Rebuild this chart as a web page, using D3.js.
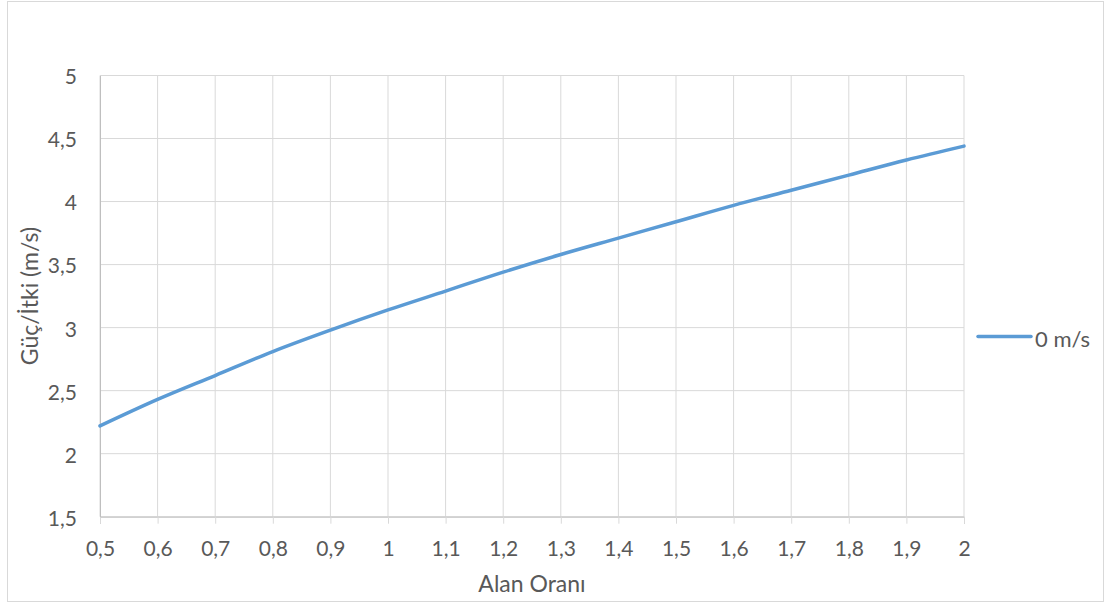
<!DOCTYPE html>
<html><head><meta charset="utf-8">
<script src="https://cdn.jsdelivr.net/npm/d3@7"></script>
<style>body{margin:0;background:#fff}svg text{font-family:Lato,"Open Sans","Liberation Sans",sans-serif;fill:#595959}</style>
</head><body>
<svg id="c" width="1111" height="604"></svg>
<script>
const xValues = [0.5,0.6,0.7,0.8,0.9,1.0,1.1,1.2,1.3,1.4,1.5,1.6,1.7,1.8,1.9,2.0];
const seriesValues = [2.22,2.43,2.62,2.81,2.98,3.14,3.29,3.44,3.58,3.71,3.84,3.97,4.09,4.21,4.33,4.44];
const xTicks = [0.5,0.6,0.7,0.8,0.9,1.0,1.1,1.2,1.3,1.4,1.5,1.6,1.7,1.8,1.9,2.0];
const yTicks = [1.5,2,2.5,3,3.5,4,4.5,5];
const seriesName = "0 m/s";

const svg = d3.select("#c");
const m = {l:100, r:964, t:75.5, b:516.7};
const fmt = d => String(d).replace(".", ",");

svg.append("rect").attr("x",7.5).attr("y",1.5).attr("width",1096).attr("height",600)
  .attr("fill","#fff").attr("stroke","#d9d9d9").attr("stroke-width",1);

const x = d3.scaleLinear().domain([0.5,2]).range([m.l,m.r]);
const y = d3.scaleLinear().domain([1.5,5]).range([m.b,m.t]);

// gridlines
svg.append("g").selectAll("line").data(xTicks).join("line")
  .attr("x1",d=>x(d)).attr("x2",d=>x(d)).attr("y1",m.t).attr("y2",m.b)
  .attr("stroke","#d9d9d9").attr("stroke-width",1);
svg.append("g").selectAll("line").data(yTicks).join("line")
  .attr("x1",m.l).attr("x2",m.r).attr("y1",d=>y(d)).attr("y2",d=>y(d))
  .attr("stroke","#d9d9d9").attr("stroke-width",1);

// x axis
const xa = svg.append("g").attr("transform",`translate(0,${m.b})`)
  .call(d3.axisBottom(x).tickValues(xTicks).tickFormat(fmt).tickSize(7).tickPadding(0));
xa.select(".domain").attr("stroke","#bfbfbf");
xa.selectAll(".tick line").attr("stroke","#d9d9d9");
xa.selectAll("text").attr("font-size",21).attr("fill","#595959").attr("dy",null).attr("y",39);

// y axis
const ya = svg.append("g").attr("transform",`translate(${m.l},0)`)
  .call(d3.axisLeft(y).tickValues(yTicks).tickFormat(fmt).tickSize(0).tickPadding(23));
ya.select(".domain").attr("stroke","#bfbfbf");
ya.selectAll("text").attr("font-size",21).attr("fill","#595959").attr("dy","0.4em");

// line
const line = d3.line().x((d,i)=>x(xValues[i])).y(d=>y(d)).curve(d3.curveMonotoneX);
svg.append("path").datum(seriesValues).attr("d",line)
  .attr("fill","none").attr("stroke","#5b9bd5").attr("stroke-width",3.5).attr("stroke-linecap","round");

// titles
svg.append("text").attr("x",(m.l+m.r)/2).attr("y",591.5).attr("text-anchor","middle")
  .attr("font-size",23).text("Alan Oranı");
svg.append("text").attr("transform",`translate(38,${(m.t+m.b)/2}) rotate(-90)`)
  .attr("text-anchor","middle").attr("font-size",23).text("Güç/İtki (m/s)");

// legend
svg.append("line").attr("x1",978).attr("x2",1031).attr("y1",336.5).attr("y2",336.5)
  .attr("stroke","#5b9bd5").attr("stroke-width",3.5).attr("stroke-linecap","round");
svg.append("text").attr("x",1035).attr("y",346.5).attr("font-size",22).text(seriesName);
</script>
</body></html>
